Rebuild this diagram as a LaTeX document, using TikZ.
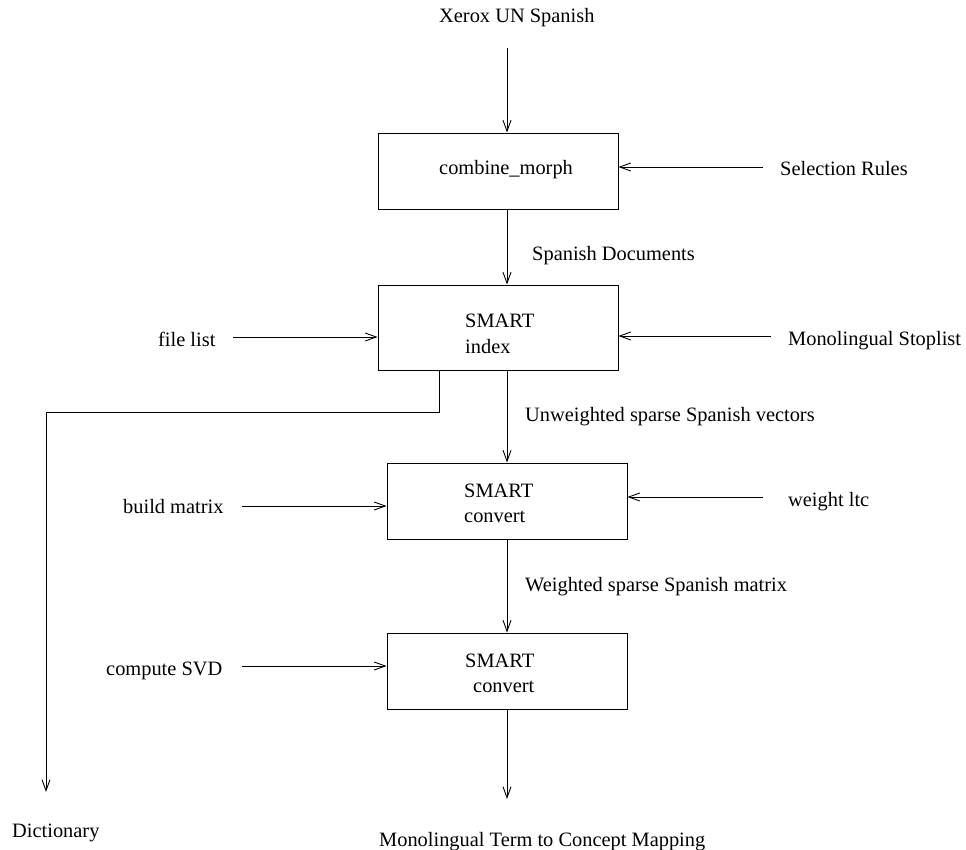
\documentclass[tikz,border=0pt]{standalone}
\usepackage{fontspec}
\setmainfont{Liberation Serif}
\usetikzlibrary{arrows.meta}
\begin{document}
\begin{tikzpicture}[x=1pt,y=-1pt,
  lbl/.style={inner sep=0pt, anchor=base west, font=\fontsize{20.4pt}{24pt}\selectfont},
  box/.style={draw, line width=0.9pt, inner sep=0pt, minimum width=240pt},
  flow/.style={line width=0.9pt, -{Straight Barb[length=11pt,width=8pt]}},
  wire/.style={line width=0.9pt}]
\useasboundingbox (0,0) rectangle (966,850);

% processing boxes
\node[box, minimum height=76pt] (combine) at (498,171) {};
\node[box, minimum height=85pt] (index)   at (498,327.5) {};
\node[box, minimum height=76pt] (conv1)   at (507,501) {};
\node[box, minimum height=76pt] (conv2)   at (507,671) {};

% box captions
\node[lbl] at (439,175) {combine\_morph};
\node[lbl] at (465,327) {SMART};
\node[lbl] at (465,353) {index};
\node[lbl] at (464,497) {SMART};
\node[lbl] at (464,522) {convert};
\node[lbl] at (465,667) {SMART};
\node[lbl] at (473,692) {convert};

% inputs, outputs and flow labels
\node[lbl] (xerox)    at (439,23)  {Xerox UN Spanish};
\node[lbl] (selrules) at (780,176) {Selection Rules};
\node[lbl] (spandocs) at (532,261) {Spanish Documents};
\node[lbl] (filelist) at (158,346) {file list};
\node[lbl] (stoplist) at (788,345) {Monolingual Stoplist};
\node[lbl] (unweight) at (525,421) {Unweighted sparse Spanish vectors};
\node[lbl] (buildm)   at (123,513) {build matrix};
\node[lbl] (wltc)     at (788,506) {weight ltc};
\node[lbl] (weighted) at (525,591) {Weighted sparse Spanish matrix};
\node[lbl] (svd)      at (106,675) {compute SVD};
\node[lbl] (dict)     at (12,837)  {Dictionary};
\node[lbl] (mapping)  at (379,846) {Monolingual Term to Concept Mapping};

% connector end points
\coordinate (xin)   at (507,48);
\coordinate (mapin) at (507,799);
\coordinate (selin) at (763,167);
\coordinate (flin)  at (233,337);
\coordinate (stin)  at (771,336);
\coordinate (bmin)  at (242,506);
\coordinate (wlin)  at (763,497);
\coordinate (svin)  at (242,666);
\coordinate (dtap)  at (439,412);
\coordinate (dbend) at (46,412);
\coordinate (dend)  at (46,792);

% main pipeline
\draw[flow] (xin) -- (xin |- combine.north);
\draw[flow] (combine.south -| xin) -- (index.north -| xin);
\draw[flow] (index.south -| xin) -- (conv1.north);
\draw[flow] (conv1.south) -- (conv2.north);
\draw[flow] (conv2.south) -- (mapin);

% side inputs
\draw[flow] (selin) -- (selin -| combine.east);
\draw[flow] (flin) -- (flin -| index.west);
\draw[flow] (stin) -- (stin -| index.east);
\draw[flow] (bmin) -- (bmin -| conv1.west);
\draw[flow] (wlin) -- (wlin -| conv1.east);
\draw[flow] (svin) -- (svin -| conv2.west);

% dictionary branch
\draw[flow] (index.south -| dtap) -- (dtap) -- (dbend) -- (dend);
\end{tikzpicture}
\end{document}
